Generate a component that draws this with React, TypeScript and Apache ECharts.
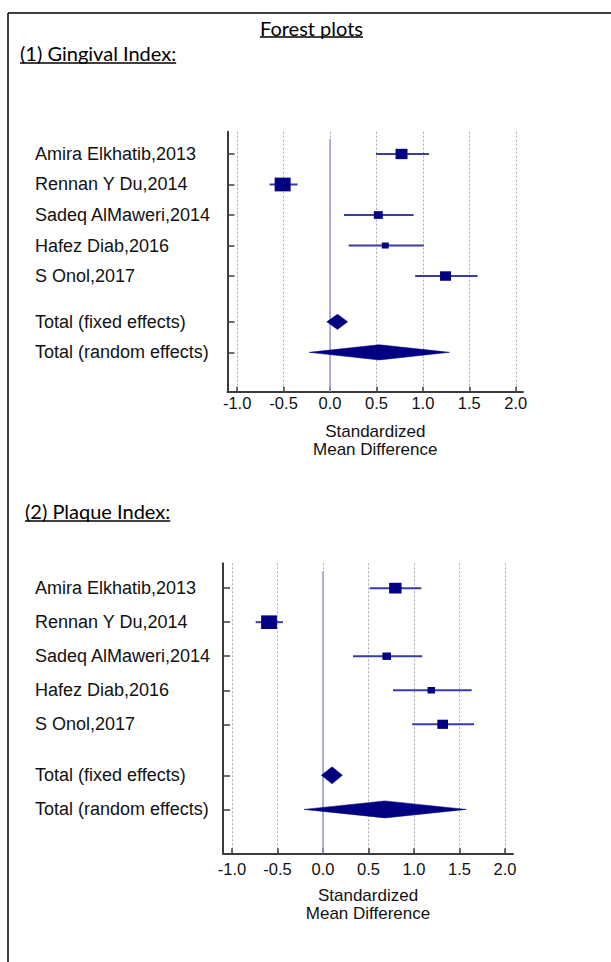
import React, { useEffect, useRef } from "react";
import * as echarts from "echarts";

// ---------- data ----------
const studies = [
  "Amira Elkhatib,2013",
  "Rennan Y Du,2014",
  "Sadeq AlMaweri,2014",
  "Hafez Diab,2016",
  "S Onol,2017",
];
const totals = ["Total (fixed effects)", "Total (random effects)"];
const rowPositions = [0, 1, 2, 3, 4, 5.5, 6.5];
const xTicks = [-1, -0.5, 0, 0.5, 1, 1.5, 2];

// (1) Gingival Index
const giEst = [0.77, -0.51, 0.52, 0.595, 1.244];
const giLow = [0.495, -0.65, 0.15, 0.2, 0.917];
const giHigh = [1.065, -0.35, 0.9, 1.01, 1.588];
const giWeight = [22.1, 39.3, 12.4, 7.5, 18.6];
const giFixed = [-0.035, 0.08, 0.19];
const giRandom = [-0.226, 0.53, 1.287];

// (2) Plaque Index
const piEst = [0.795, -0.593, 0.7, 1.19, 1.315];
const piLow = [0.513, -0.74, 0.33, 0.77, 0.98];
const piHigh = [1.08, -0.44, 1.09, 1.634, 1.66];
const piWeight = [23.8, 38.6, 11.4, 8.7, 17.5];
const piFixed = [-0.018, 0.1, 0.213];
const piRandom = [-0.21, 0.68, 1.576];

const labels = [...studies, ...totals];

const NAVY = "#000080";
const BAR = "#3a3aa8";
const AXIS = "#3c3c3c";
const FONT = "'Liberation Sans', Arial, sans-serif";
const TITLE_FONT = "Lato, 'Open Sans', sans-serif";

function measure(text: string, font: string): number {
  const c = document.createElement("canvas").getContext("2d");
  if (!c) return text.length * 8;
  c.font = font;
  return c.measureText(text).width;
}

export default function App() {
  const ref = useRef<HTMLDivElement>(null);
  useEffect(() => {
    if (!ref.current) return;
    const chart = echarts.init(ref.current, undefined, { renderer: "svg" });

    const panels = [
      {
        est: giEst, low: giLow, high: giHigh, weight: giWeight, fixed: giFixed, random: giRandom,
        grid: { left: 227.5, top: 131.7, width: 295.5, height: 260 },
        xMin: -1.104, xMax: 2.078, labelMargin: 192.5, tickMargin: 3, nameGap: 31,
      },
      {
        est: piEst, low: piLow, high: piHigh, weight: piWeight, fixed: piFixed, random: piRandom,
        grid: { left: 223, top: 563.3, width: 290, height: 290 },
        xMin: -1.099, xMax: 2.088, labelMargin: 188, tickMargin: 7, nameGap: 33,
      },
    ];
    const yMin = -0.73;
    const yMax = 7.79;

    const grids: any[] = [];
    const xAxes: any[] = [];
    const yAxes: any[] = [];
    const series: any[] = [];

    panels.forEach((p, i) => {
      grids.push({ ...p.grid, containLabel: false });
      xAxes.push({
        type: "value",
        gridIndex: i,
        min: p.xMin,
        max: p.xMax,
        name: "Standardized\nMean Difference",
        nameLocation: "middle",
        nameGap: p.nameGap,
        nameTextStyle: { fontFamily: FONT, fontSize: 17, color: "#111", lineHeight: 18 },
        axisLine: { show: true, onZero: false, lineStyle: { color: AXIS, width: 2 } },
        axisTick: { show: true, inside: true, length: 5, customValues: xTicks, lineStyle: { color: AXIS, width: 1.5 } },
        axisLabel: {
          customValues: xTicks,
          margin: p.tickMargin,
          fontFamily: FONT,
          fontSize: 16.5,
          color: "#111",
          formatter: (v: number) => v.toFixed(1),
        },
        splitLine: { show: true, lineStyle: { color: "#a8a8a8", type: [2, 2], width: 1 } },
      });
      yAxes.push({
        type: "value",
        gridIndex: i,
        inverse: true,
        min: yMin,
        max: yMax,
        axisLine: { show: true, onZero: false, lineStyle: { color: AXIS, width: 2 } },
        axisTick: { show: true, inside: true, length: 7, customValues: rowPositions, lineStyle: { color: AXIS, width: 1.5 } },
        axisLabel: {
          customValues: rowPositions,
          align: "left",
          margin: p.labelMargin,
          fontFamily: FONT,
          fontSize: 18,
          color: "#111",
          formatter: (v: number) => {
            const idx = rowPositions.indexOf(v);
            return idx >= 0 ? labels[idx] : "";
          },
        },
        splitLine: { show: false },
      });

      // zero line
      series.push({
        type: "line",
        xAxisIndex: i,
        yAxisIndex: i,
        data: [[0, -0.5], [0, yMax]],
        symbol: "none",
        lineStyle: { color: "#9a9ad2", width: 1.5 },
        z: 1,
        silent: true,
      });

      // confidence intervals
      series.push({
        type: "custom",
        xAxisIndex: i,
        yAxisIndex: i,
        encode: { x: [0, 1], y: 2 },
        data: p.est.map((_, k) => [p.low[k], p.high[k], rowPositions[k]]),
        renderItem: (_params: any, api: any) => {
          const a = api.coord([api.value(0), api.value(2)]);
          const b = api.coord([api.value(1), api.value(2)]);
          return {
            type: "line",
            shape: { x1: a[0], y1: a[1], x2: b[0], y2: b[1] },
            style: { stroke: BAR, lineWidth: 2 },
          };
        },
        z: 3,
        silent: true,
      });

      // weighted squares
      series.push({
        type: "scatter",
        xAxisIndex: i,
        yAxisIndex: i,
        data: p.est.map((v, k) => {
          const w = 2.55 * Math.sqrt(p.weight[k]);
          return { value: [v, rowPositions[k]], symbolSize: [w, w * 0.86] };
        }),
        symbol: "rect",
        itemStyle: { color: NAVY, opacity: 1 },
        z: 5,
        silent: true,
      });

      // pooled diamonds
      series.push({
        type: "custom",
        xAxisIndex: i,
        yAxisIndex: i,
        encode: { x: [0, 1, 2], y: 3 },
        data: [
          [p.fixed[0], p.fixed[1], p.fixed[2], rowPositions[5]],
          [p.random[0], p.random[1], p.random[2], rowPositions[6]],
        ],
        renderItem: (_params: any, api: any) => {
          const y = api.value(3);
          const l = api.coord([api.value(0), y]);
          const r = api.coord([api.value(2), y]);
          const t = api.coord([api.value(1), y - 0.25]);
          const b = api.coord([api.value(1), y + 0.25]);
          return {
            type: "polygon",
            shape: { points: [l, t, r, b] },
            style: { fill: NAVY, stroke: NAVY, lineWidth: 0.5 },
          };
        },
        z: 4,
        silent: true,
      });
    });

    const titleFont = `20px ${TITLE_FONT}`;
    const t0 = "Forest plots";
    const t1 = "(1) Gingival Index:";
    const t2 = "(2) Plaque Index:";
    const w0 = measure(t0, titleFont);
    const w1 = measure(t1, titleFont);
    const w2 = measure(t2, titleFont);
    const titleStyle = { fontFamily: TITLE_FONT, fontSize: 20, fill: "#000" };

    const graphic: any[] = [
      { type: "line", shape: { x1: 8, y1: 13, x2: 611, y2: 13 }, style: { stroke: "#000", lineWidth: 1.5 } },
      { type: "line", shape: { x1: 8, y1: 13, x2: 8, y2: 962 }, style: { stroke: "#000", lineWidth: 1.5 } },
      { type: "text", x: 311.5, y: 28, style: { ...titleStyle, text: t0, textAlign: "center", textVerticalAlign: "middle" } },
      { type: "line", shape: { x1: 311.5 - w0 / 2, y1: 37, x2: 311.5 + w0 / 2, y2: 37 }, style: { stroke: "#000", lineWidth: 1.5 } },
      { type: "text", x: 20, y: 53, style: { ...titleStyle, text: t1, textAlign: "left", textVerticalAlign: "middle" } },
      { type: "line", shape: { x1: 20, y1: 63, x2: 20 + w1, y2: 63 }, style: { stroke: "#000", lineWidth: 1.5 } },
      { type: "text", x: 25, y: 511, style: { ...titleStyle, text: t2, textAlign: "left", textVerticalAlign: "middle" } },
      { type: "line", shape: { x1: 25, y1: 521, x2: 25 + w2, y2: 521 }, style: { stroke: "#000", lineWidth: 1.5 } },
    ];

    chart.setOption({
      animation: false,
      backgroundColor: "#fff",
      grid: grids,
      xAxis: xAxes,
      yAxis: yAxes,
      series,
      graphic,
    });

    return () => chart.dispose();
  }, []);

  return (
    <div
      ref={ref}
      style={{ position: "absolute", left: 0, top: 0, width: 611, height: 962, background: "#fff" }}
    />
  );
}
